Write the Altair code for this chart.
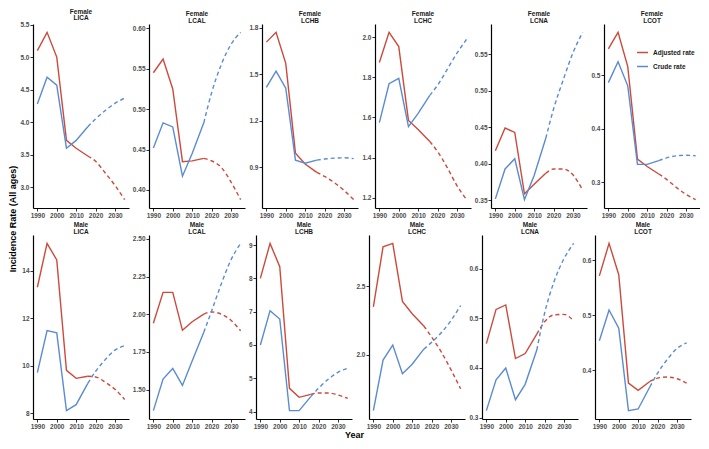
import altair as alt
import pandas as pd

# ---------------- data ----------------
years = [1990, 1995, 2000, 2005, 2010, 2016, 2020, 2025, 2030, 2035]
N_OBS = 6  # first 6 points observed (solid); from index 5 on projected (dashed)

sexes = ["Female", "Male"]
sites = ["LICA", "LCAL", "LCHB", "LCHC", "LCNA", "LCOT"]
series_names = ["Adjusted rate", "Crude rate"]

female_lica_adjusted = [5.10, 5.38, 5.00, 3.72, 3.60, 3.48, 3.40, 3.22, 3.03, 2.81]
female_lica_crude = [4.28, 4.69, 4.57, 3.60, 3.72, 3.93, 4.05, 4.18, 4.29, 4.37]
female_lcal_adjusted = [0.545, 0.562, 0.525, 0.435, 0.436, 0.439, 0.436, 0.428, 0.410, 0.388]
female_lcal_crude = [0.452, 0.483, 0.478, 0.417, 0.445, 0.483, 0.520, 0.555, 0.580, 0.595]
female_lchb_adjusted = [1.707, 1.77, 1.57, 0.99, 0.92, 0.866, 0.84, 0.80, 0.75, 0.69]
female_lchb_crude = [1.415, 1.52, 1.41, 0.945, 0.925, 0.945, 0.952, 0.958, 0.960, 0.955]
female_lchc_adjusted = [1.874, 2.024, 1.953, 1.585, 1.54, 1.48, 1.43, 1.35, 1.26, 1.19]
female_lchc_crude = [1.574, 1.768, 1.795, 1.554, 1.62, 1.71, 1.76, 1.84, 1.92, 1.99]
female_lcna_adjusted = [0.418, 0.449, 0.443, 0.359, 0.372, 0.387, 0.393, 0.393, 0.385, 0.364]
female_lcna_crude = [0.352, 0.393, 0.407, 0.351, 0.384, 0.435, 0.475, 0.515, 0.552, 0.580]
female_lcot_adjusted = [0.549, 0.580, 0.516, 0.343, 0.329, 0.315, 0.305, 0.290, 0.277, 0.267]
female_lcot_crude = [0.486, 0.525, 0.480, 0.333, 0.333, 0.340, 0.345, 0.349, 0.350, 0.349]

male_lica_adjusted = [13.3, 15.15, 14.45, 9.8, 9.46, 9.55, 9.52, 9.3, 9.0, 8.57]
male_lica_crude = [9.7, 11.47, 11.38, 8.1, 8.35, 9.25, 9.75, 10.25, 10.65, 10.84]
male_lcal_adjusted = [1.94, 2.145, 2.145, 1.893, 1.95, 2.0, 2.015, 2.0, 1.96, 1.89]
male_lcal_crude = [1.36, 1.57, 1.64, 1.527, 1.69, 1.88, 2.02, 2.2, 2.36, 2.47]
male_lchb_adjusted = [8.0, 9.05, 8.35, 4.7, 4.43, 4.52, 4.56, 4.56, 4.5, 4.4]
male_lchb_crude = [6.0, 7.03, 6.78, 4.03, 4.03, 4.45, 4.7, 4.97, 5.18, 5.3]
male_lchc_adjusted = [2.35, 2.79, 2.815, 2.39, 2.30, 2.21, 2.13, 2.02, 1.89, 1.75]
male_lchc_crude = [1.59, 1.96, 2.07, 1.86, 1.93, 2.04, 2.09, 2.16, 2.25, 2.36]
male_lcna_adjusted = [0.449, 0.518, 0.527, 0.419, 0.429, 0.468, 0.493, 0.507, 0.508, 0.495]
male_lcna_crude = [0.314, 0.376, 0.40, 0.336, 0.367, 0.436, 0.51, 0.575, 0.62, 0.651]
male_lcot_adjusted = [0.572, 0.631, 0.574, 0.377, 0.364, 0.38, 0.386, 0.388, 0.385, 0.377]
male_lcot_crude = [0.454, 0.51, 0.477, 0.327, 0.33, 0.37, 0.395, 0.42, 0.44, 0.45]

# y tick labels per panel
female_ticks = {
    "LICA": [3.0, 3.5, 4.0, 4.5, 5.0, 5.5],
    "LCAL": [0.40, 0.45, 0.50, 0.55, 0.60],
    "LCHB": [0.9, 1.2, 1.5, 1.8],
    "LCHC": [1.2, 1.4, 1.6, 1.8, 2.0],
    "LCNA": [0.35, 0.40, 0.45, 0.50, 0.55],
    "LCOT": [0.3, 0.4, 0.5],
}
male_ticks = {
    "LICA": [8, 10, 12, 14],
    "LCAL": [1.50, 1.75, 2.00, 2.25, 2.50],
    "LCHB": [4, 5, 6, 7, 8, 9],
    "LCHC": [2.0, 2.5],
    "LCNA": [0.3, 0.4, 0.5, 0.6],
    "LCOT": [0.4, 0.5, 0.6],
}
female_formats = {"LICA": ".1f", "LCAL": ".2f", "LCHB": ".1f", "LCHC": ".1f", "LCNA": ".2f", "LCOT": ".1f"}
male_formats = {"LICA": "d", "LCAL": ".2f", "LCHB": "d", "LCHC": ".1f", "LCNA": ".1f", "LCOT": ".1f"}
x_ticks = [1990, 2000, 2010, 2020, 2030]

panel_data = {
    ("Female", "LICA"): (female_lica_adjusted, female_lica_crude),
    ("Female", "LCAL"): (female_lcal_adjusted, female_lcal_crude),
    ("Female", "LCHB"): (female_lchb_adjusted, female_lchb_crude),
    ("Female", "LCHC"): (female_lchc_adjusted, female_lchc_crude),
    ("Female", "LCNA"): (female_lcna_adjusted, female_lcna_crude),
    ("Female", "LCOT"): (female_lcot_adjusted, female_lcot_crude),
    ("Male", "LICA"): (male_lica_adjusted, male_lica_crude),
    ("Male", "LCAL"): (male_lcal_adjusted, male_lcal_crude),
    ("Male", "LCHB"): (male_lchb_adjusted, male_lchb_crude),
    ("Male", "LCHC"): (male_lchc_adjusted, male_lchc_crude),
    ("Male", "LCNA"): (male_lcna_adjusted, male_lcna_crude),
    ("Male", "LCOT"): (male_lcot_adjusted, male_lcot_crude),
}

# ---------------- style ----------------
RED = "#CC4A3C"
BLUE = "#5B8BD0"
FONT = "Liberation Sans"
W = 96
H = 184


def panel(sex, site):
    adj, crude = panel_data[(sex, site)]
    rows = []
    for name, vals in zip(series_names, (adj, crude)):
        for i, (yr, v) in enumerate(zip(years, vals)):
            if i < N_OBS:
                rows.append({"year": yr, "value": v, "series": name, "phase": "observed"})
            if i >= N_OBS - 1:
                rows.append({"year": yr, "value": v, "series": name, "phase": "projected"})
    df = pd.DataFrame(rows)
    allv = adj + crude
    lo, hi = min(allv), max(allv)
    pad = 0.05 * (hi - lo)
    ticks = female_ticks[site] if sex == "Female" else male_ticks[site]
    fmt = female_formats[site] if sex == "Female" else male_formats[site]

    x = alt.X("year:Q", scale=alt.Scale(domain=[1987.75, 2037.25], nice=False, zero=False),
              axis=alt.Axis(values=x_ticks, format="d", title=None))
    y = alt.Y("value:Q", scale=alt.Scale(domain=[lo - pad, hi + pad], nice=False, zero=False),
              axis=alt.Axis(values=ticks, format=fmt, title=None))
    color = alt.Color("series:N",
                      scale=alt.Scale(domain=series_names, range=[RED, BLUE]),
                      legend=alt.Legend(title=None, orient="none", legendX=603, legendY=22))
    base = alt.Chart(df)
    solid = base.transform_filter(alt.datum.phase == "observed").mark_line(
        strokeWidth=1.4).encode(x=x, y=y, color=color, detail="series:N")
    dashed = base.transform_filter(alt.datum.phase == "projected").mark_line(
        strokeWidth=1.4, strokeDash=[4, 3], interpolate="monotone").encode(
        x=x, y=y, color=color, detail="series:N")
    return alt.layer(solid, dashed).properties(
        width=W, height=H,
        title=alt.Title([sex, site], fontSize=6.5, fontWeight="bold", font=FONT,
                        color="#1A1A1A", offset=0, lineHeight=6.5, anchor="middle"))


row1 = alt.hconcat(*[panel("Female", s) for s in sites], spacing=3)
row2 = alt.hconcat(*[panel("Male", s) for s in sites], spacing=3)
inner = alt.vconcat(row1, row2, spacing=3).properties(
    title=alt.Title("Incidence Rate (All ages)", orient="left", anchor="middle",
                    fontSize=9, fontWeight="bold", font=FONT, color="#000000", offset=2))
chart = alt.vconcat(inner, spacing=0).properties(
    title=alt.Title("Year", orient="bottom", anchor="middle", fontSize=9,
                    fontWeight="bold", font=FONT, color="#000000", offset=1),
    padding={"left": 0, "top": 0, "right": 0, "bottom": 0},
).configure_view(stroke=None).configure_axis(
    grid=False, domainColor="#000000", domainWidth=1.2, tickColor="#333333",
    tickSize=3, tickWidth=1, labelFontSize=6.5, labelFont=FONT, labelFontWeight="bold",
    labelColor="#4D4D4D", labelPadding=1,
).configure_legend(
    labelFont=FONT, labelFontSize=6.5, labelFontWeight="bold", labelColor="#1A1A1A",
    symbolType="stroke", symbolStrokeWidth=1.5, symbolSize=120, rowPadding=4,
)

chart.save("out.html", embed_options={"renderer": "svg", "actions": False})
